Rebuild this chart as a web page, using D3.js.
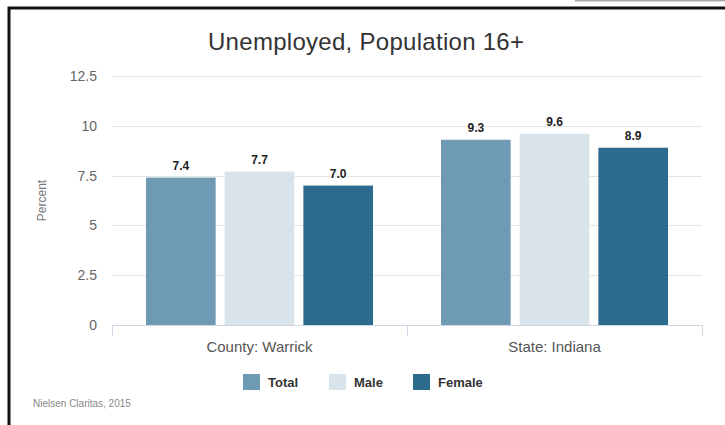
<!DOCTYPE html>
<html>
<head>
<meta charset="utf-8">
<script src="https://cdn.jsdelivr.net/npm/d3@7"></script>
<style>
  body { margin: 0; background: #fff; }
  svg { display: block; font-family: "Liberation Sans", Arial, sans-serif; }
</style>
</head>
<body>
<div id="chart"></div>
<script>
const categories = ['County: Warrick', 'State: Indiana'];
const seriesNames = ['Total', 'Male', 'Female'];
const totalValues = [7.4, 9.3];
const maleValues = [7.7, 9.6];
const femaleValues = [7.0, 8.9];
const yTicks = [0, 2.5, 5, 7.5, 10, 12.5];
const colors = ['#6f9ab3', '#d9e4ea', '#2c6a8e'];

const width = 725, height = 425;
const margin = {top: 76, right: 23, bottom: 100, left: 112};

const svg = d3.select('#chart').append('svg')
  .attr('width', width)
  .attr('height', height);

// frame from the screenshot
svg.append('line').attr('x1', 575).attr('x2', width).attr('y1', 0.5).attr('y2', 0.5)
  .attr('stroke', '#aaa').attr('stroke-width', 2);
svg.append('path').attr('d', `M9,${height} V8 H${width}`)
  .attr('fill', 'none').attr('stroke', '#111').attr('stroke-width', 3);

const x0 = d3.scaleBand()
  .domain(categories)
  .range([margin.left, width - margin.right]);

const x1 = d3.scaleBand()
  .domain(seriesNames)
  .range([34, x0.bandwidth() - 34])
  .paddingInner(0.115);

const y = d3.scaleLinear()
  .domain([0, 12.5])
  .range([height - margin.bottom, margin.top]);

// title
svg.append('text')
  .attr('x', 366).attr('y', 50)
  .attr('text-anchor', 'middle')
  .attr('font-size', 24)
  .attr('fill', '#333')
  .attr('textLength', 316)
  .text('Unemployed, Population 16+');

// grid
svg.append('g')
  .selectAll('line')
  .data(yTicks.filter(d => d > 0))
  .join('line')
    .attr('x1', margin.left).attr('x2', width - margin.right)
    .attr('y1', d => Math.round(y(d)) + 0.5).attr('y2', d => Math.round(y(d)) + 0.5)
    .attr('stroke', '#e4e4e4');

// y axis labels
svg.append('g')
  .selectAll('text')
  .data(yTicks)
  .join('text')
    .attr('x', 97)
    .attr('y', d => y(d) + 5)
    .attr('text-anchor', 'end')
    .attr('font-size', 14)
    .attr('fill', '#666')
    .text(d => d);

svg.append('text')
  .attr('transform', `translate(46,${y(6.25)}) rotate(-90)`)
  .attr('text-anchor', 'middle')
  .attr('font-size', 12)
  .attr('fill', '#777')
  .text('Percent');

// bars
const rows = categories.map((c, i) => ({
  category: c,
  values: [totalValues[i], maleValues[i], femaleValues[i]]
}));

const groups = svg.append('g')
  .selectAll('g')
  .data(rows)
  .join('g')
    .attr('transform', d => `translate(${x0(d.category)},0)`);

groups.selectAll('rect')
  .data(d => d.values.map((v, i) => ({name: seriesNames[i], value: v})))
  .join('rect')
    .attr('x', d => x1(d.name))
    .attr('y', d => y(d.value))
    .attr('width', x1.bandwidth())
    .attr('height', d => y(0) - y(d.value))
    .attr('fill', (d, i) => colors[i]);

groups.selectAll('text')
  .data(d => d.values.map((v, i) => ({name: seriesNames[i], value: v})))
  .join('text')
    .attr('x', d => x1(d.name) + x1.bandwidth() / 2)
    .attr('y', d => y(d.value) - 8)
    .attr('text-anchor', 'middle')
    .attr('font-size', 12)
    .attr('font-weight', 'bold')
    .attr('fill', '#222')
    .text(d => d.value.toFixed(1));

// x axis
const xAxis = svg.append('g');
xAxis.append('line')
  .attr('x1', margin.left).attr('x2', width - margin.right)
  .attr('y1', y(0) + 0.5).attr('y2', y(0) + 0.5)
  .attr('stroke', '#cfd6e4');
xAxis.selectAll('line.tick')
  .data([margin.left, ...categories.map(c => x0(c) + x0.bandwidth())])
  .join('line')
    .attr('class', 'tick')
    .attr('x1', d => Math.round(d) + 0.5).attr('x2', d => Math.round(d) + 0.5)
    .attr('y1', y(0)).attr('y2', y(0) + 11)
    .attr('stroke', '#cfd6e4');
xAxis.selectAll('text')
  .data(categories)
  .join('text')
    .attr('x', d => x0(d) + x0.bandwidth() / 2)
    .attr('y', y(0) + 27)
    .attr('text-anchor', 'middle')
    .attr('font-size', 15)
    .attr('fill', '#555')
    .text(d => d);

// legend
const legendX = [243, 329, 413];
const legend = svg.append('g')
  .selectAll('g')
  .data(seriesNames)
  .join('g')
    .attr('transform', (d, i) => `translate(${legendX[i]},374)`);
legend.append('rect')
  .attr('width', 17).attr('height', 16)
  .attr('fill', (d, i) => colors[i]);
legend.append('text')
  .attr('x', 25).attr('y', 13)
  .attr('font-size', 13)
  .attr('font-weight', 'bold')
  .attr('fill', '#333')
  .text(d => d);

// source
svg.append('text')
  .attr('x', 33).attr('y', 407)
  .attr('font-size', 10)
  .attr('fill', '#888')
  .text('Nielsen Claritas, 2015');
</script>
</body>
</html>
